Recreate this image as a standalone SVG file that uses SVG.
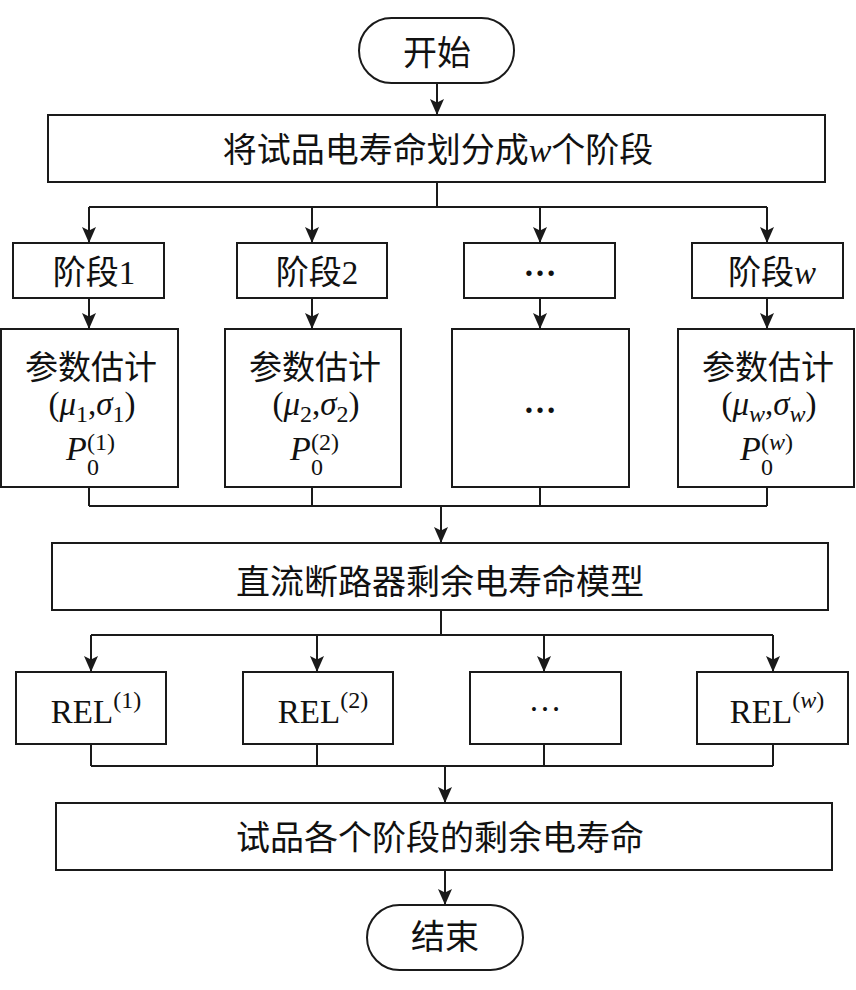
<svg xmlns="http://www.w3.org/2000/svg" width="856" height="990" viewBox="0 0 856 990">
<defs>
<style>
.box{fill:#fff;stroke:#1a1a1a;stroke-width:2}
.ln{fill:none;stroke:#1a1a1a;stroke-width:2}
.arr{fill:none;stroke:#1a1a1a;stroke-width:2;marker-end:url(#ah)}
text{font-family:"Liberation Serif","Noto Sans CJK SC",serif;fill:#111}
.big{font-size:34px;text-anchor:middle}
.mid{font-size:33px;text-anchor:middle}
.sm{font-size:34px}
.it{font-style:italic}
.s{font-size:24px}
</style>
<marker id="ah" viewBox="0 0 16 14" refX="16" refY="7" markerWidth="16" markerHeight="14" markerUnits="userSpaceOnUse" orient="auto">
<path d="M0,0 L16,7 L0,14 L3.5,7 z" fill="#1a1a1a"/>
</marker>
</defs>
<rect width="856" height="990" fill="#fff"/>

<g id="connectors">
<line class="arr" x1="437" y1="83" x2="437" y2="115"/>
<line class="ln" x1="437" y1="182" x2="437" y2="207"/>
<line class="ln" x1="89" y1="207" x2="767" y2="207"/>
<line class="arr" x1="89" y1="207" x2="89" y2="243"/>
<line class="arr" x1="312" y1="207" x2="312" y2="243"/>
<line class="arr" x1="540" y1="207" x2="540" y2="243"/>
<line class="arr" x1="767" y1="207" x2="767" y2="243"/>
<line class="arr" x1="89" y1="298" x2="89" y2="329"/>
<line class="arr" x1="312" y1="298" x2="312" y2="329"/>
<line class="arr" x1="540" y1="298" x2="540" y2="329"/>
<line class="arr" x1="767" y1="298" x2="767" y2="329"/>
<line class="ln" x1="89" y1="487" x2="89" y2="506"/>
<line class="ln" x1="312" y1="487" x2="312" y2="506"/>
<line class="ln" x1="540" y1="487" x2="540" y2="506"/>
<line class="ln" x1="767" y1="487" x2="767" y2="506"/>
<line class="ln" x1="89" y1="506" x2="767" y2="506"/>
<line class="arr" x1="441" y1="506" x2="441" y2="543"/>
<line class="ln" x1="441" y1="610" x2="441" y2="635"/>
<line class="ln" x1="91" y1="635" x2="773" y2="635"/>
<line class="arr" x1="91" y1="635" x2="91" y2="672"/>
<line class="arr" x1="317" y1="635" x2="317" y2="672"/>
<line class="arr" x1="544" y1="635" x2="544" y2="672"/>
<line class="arr" x1="773" y1="635" x2="773" y2="672"/>
<line class="ln" x1="91" y1="744" x2="91" y2="766"/>
<line class="ln" x1="317" y1="744" x2="317" y2="766"/>
<line class="ln" x1="544" y1="744" x2="544" y2="766"/>
<line class="ln" x1="773" y1="744" x2="773" y2="766"/>
<line class="ln" x1="91" y1="766" x2="773" y2="766"/>
<line class="arr" x1="445" y1="766" x2="445" y2="803"/>
<line class="arr" x1="445" y1="870" x2="445" y2="905"/>
</g>

<g id="start">
<rect class="box" x="359" y="18" width="155" height="65" rx="32.5" ry="32.5"/>
<text class="big" x="437" y="65">开始</text>
</g>

<g id="divide">
<rect class="box" x="48" y="115" width="777" height="67"/>
<text class="big" x="438" y="162">将试品电寿命划分成<tspan class="it">w</tspan>个阶段</text>
</g>

<g id="stage1">
<rect class="box" x="13" y="243" width="151" height="55"/>
<text class="mid" x="94" y="284">阶段1</text>
</g>
<g id="stage2">
<rect class="box" x="237" y="243" width="150" height="55"/>
<text class="mid" x="317" y="284">阶段2</text>
</g>
<g id="stage3">
<rect class="box" x="464" y="243" width="151" height="55"/>
<text class="mid" x="540" y="276" font-weight="bold">…</text>
</g>
<g id="stagew">
<rect class="box" x="692" y="243" width="151" height="55"/>
<text class="mid" x="772" y="284">阶段<tspan class="it">w</tspan></text>
</g>

<g id="param1">
<rect class="box" x="1" y="329" width="177" height="158"/>
<text class="mid" x="91" y="379">参数估计</text>
<text class="mid" x="92" y="415">(<tspan class="it">μ</tspan><tspan class="s" dy="7">1</tspan><tspan dy="-7">,</tspan><tspan class="it">σ</tspan><tspan class="s" dy="7">1</tspan><tspan dy="-7">)</tspan></text>
<text class="sm it" x="66" y="460">P</text>
<text class="s" x="87" y="475">0</text>
<text class="s" x="87" y="450">(1)</text>
</g>
<g id="param2">
<rect class="box" x="225" y="329" width="176" height="158"/>
<text class="mid" x="315" y="379">参数估计</text>
<text class="mid" x="316" y="415">(<tspan class="it">μ</tspan><tspan class="s" dy="7">2</tspan><tspan dy="-7">,</tspan><tspan class="it">σ</tspan><tspan class="s" dy="7">2</tspan><tspan dy="-7">)</tspan></text>
<text class="sm it" x="290" y="460">P</text>
<text class="s" x="311" y="475">0</text>
<text class="s" x="311" y="450">(2)</text>
</g>
<g id="param3">
<rect class="box" x="452" y="329" width="177" height="158"/>
<text class="mid" x="540" y="413" font-weight="bold">…</text>
</g>
<g id="paramw">
<rect class="box" x="678" y="329" width="176" height="158"/>
<text class="mid" x="768" y="379">参数估计</text>
<text class="mid" x="769" y="415">(<tspan class="it">μ</tspan><tspan class="it s" dy="7">w</tspan><tspan dy="-7">,</tspan><tspan class="it">σ</tspan><tspan class="it s" dy="7">w</tspan><tspan dy="-7">)</tspan></text>
<text class="sm it" x="740" y="460">P</text>
<text class="s" x="761" y="475">0</text>
<text class="s" x="761" y="450">(<tspan class="it">w</tspan>)</text>
</g>

<g id="model">
<rect class="box" x="52" y="543" width="776" height="67"/>
<text class="big" x="440" y="594">直流断路器剩余电寿命模型</text>
</g>

<g id="rel1">
<rect class="box" x="16" y="672" width="150" height="72"/>
<text class="mid" x="96" y="723" font-size="34">REL<tspan class="s" dy="-15">(1)</tspan></text>
</g>
<g id="rel2">
<rect class="box" x="243" y="672" width="150" height="72"/>
<text class="mid" x="323" y="723" font-size="34">REL<tspan class="s" dy="-15">(2)</tspan></text>
</g>
<g id="rel3">
<rect class="box" x="470" y="672" width="151" height="72"/>
<text class="mid" x="545" y="711">…</text>
</g>
<g id="relw">
<rect class="box" x="697" y="672" width="151" height="72"/>
<text class="mid" x="777" y="723" font-size="34">REL<tspan class="s" dy="-15">(<tspan class="it">w</tspan>)</tspan></text>
</g>

<g id="result">
<rect class="box" x="56" y="803" width="776" height="67"/>
<text class="big" x="440" y="850">试品各个阶段的剩余电寿命</text>
</g>

<g id="end">
<rect class="box" x="367" y="905" width="156" height="65" rx="32.5" ry="32.5"/>
<text class="big" x="445" y="949">结束</text>
</g>
</svg>
